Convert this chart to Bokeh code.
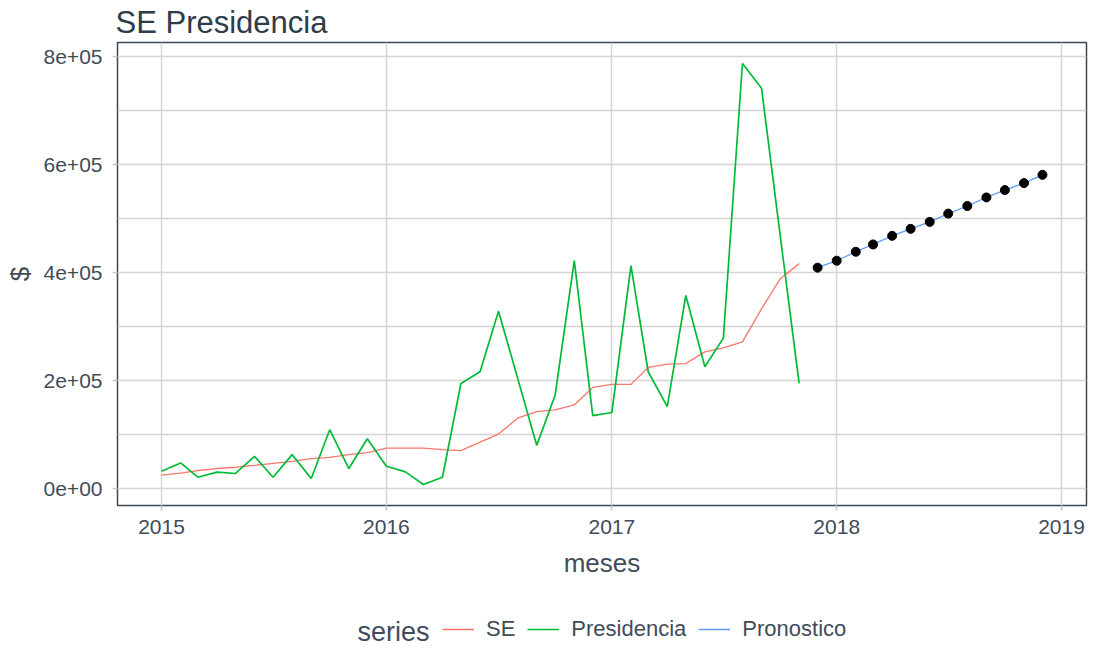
import pandas as pd
from bokeh.plotting import figure
from bokeh.layouts import column
from bokeh.models import Range1d, FixedTicker, DatetimeTickFormatter, Legend, LegendItem, Label
from bokeh.embed import file_html
from bokeh.resources import INLINE

# ---------------- data ----------------
hist_start = "2015-01-01"
forecast_start = "2017-12-01"

se = [25200, 28900, 33900, 37600, 40000, 43600, 47300, 51000, 56000, 58400,
      63300, 67000, 75500, 75500, 75500, 72600, 70700, 86600, 101300, 130800,
      143100, 146200, 155400, 187800, 193400, 193400, 224700, 230900, 232000,
      253600, 261000, 272000, 333300, 388600, 417000]

presidencia = [32600, 47900, 21500, 30800, 28400, 60200, 21500, 63300, 19100,
               109400, 37600, 92800, 41800, 31300, 8100, 21500, 195000, 216800,
               329000, 205000, 80500, 173800, 422500, 135700, 141300, 413200,
               216800, 152300, 358000, 226000, 279000, 787500, 741600, 471500,
               195200]

pronostico = [409500, 422400, 439000, 452500, 468500, 481400, 494300, 509600,
              523700, 539600, 553200, 566100, 581400]

series_names = ["SE", "Presidencia", "Pronostico"]
series_colors = ["#F8766D", "#00BA38", "#619CFF"]

x_tick_years = [2015, 2016, 2017, 2018, 2019]
y_ticks = [0, 200000, 400000, 600000, 800000]
y_tick_labels = ["0e+00", "2e+05", "4e+05", "6e+05", "8e+05"]
y_minor_ticks = [100000, 300000, 500000, 700000]

hist_dates = pd.date_range(hist_start, periods=len(se), freq="MS")
fc_dates = pd.date_range(forecast_start, periods=len(pronostico), freq="MS")

# ---------------- styling ----------------
FONT = "Liberation Sans"
TITLE_C = "#2e3b4a"
TEXT_C = "#3f4c5a"
GRID_C = "#d4d4d4"
W = 1088
H_MAIN = 590
H_LEG = 55

def ms(ts):
    return pd.Timestamp(ts).value / 1e6

all_dates = list(hist_dates) + list(fc_dates)
x0, x1 = ms(min(all_dates)), ms(max(all_dates))
xpad = (x1 - x0) * 0.05
all_vals = se + presidencia + pronostico
y0, y1 = min(all_vals), max(all_vals)
ypad = (y1 - y0) * 0.05

p = figure(width=W, height=H_MAIN, x_axis_type="datetime",
           title="SE Presidencia",
           output_backend="svg", toolbar_location=None,
           x_range=Range1d(x0 - xpad, x1 + xpad),
           y_range=Range1d(y0 - ypad, y1 + ypad),
           min_border_left=117, min_border_right=2,
           min_border_top=38, min_border_bottom=85)

p.title.text_font = FONT
p.title.text_font_size = "31px"
p.title.text_font_style = "normal"
p.title.text_color = TITLE_C
p.title.align = "left"
p.title.offset = -2
p.title.standoff = 5

p.background_fill_color = "white"
p.border_fill_color = "white"
p.outline_line_color = "#3b4856"
p.outline_line_width = 1.5

p.xaxis.ticker = FixedTicker(ticks=[ms(f"{y}-01-01") for y in x_tick_years])
p.xaxis.formatter = DatetimeTickFormatter(years="%Y", months="%Y", days="%Y",
                                          hours="%Y", minutes="%Y")
p.yaxis.ticker = FixedTicker(ticks=y_ticks, minor_ticks=y_minor_ticks)
p.yaxis.major_label_overrides = {t: l for t, l in zip(y_ticks, y_tick_labels)}

for ax in (p.xaxis[0], p.yaxis[0]):
    ax.axis_line_color = None
    ax.major_tick_in = 0
    ax.major_tick_out = 5
    ax.major_tick_line_color = "#c4c4c4"
    ax.major_tick_line_width = 1.5
    ax.minor_tick_line_color = None
    ax.major_label_text_font = FONT
    ax.major_label_text_font_size = "21px"
    ax.major_label_text_color = TEXT_C
    ax.axis_label_text_font = FONT
    ax.axis_label_text_font_size = "26px"
    ax.axis_label_text_font_style = "normal"
    ax.axis_label_text_color = TEXT_C

p.xaxis.major_label_standoff = 9
p.yaxis.major_label_standoff = 10
p.xaxis.axis_label = "meses"
p.yaxis.axis_label = "$"
p.xaxis.axis_label_standoff = 11
p.yaxis.axis_label_standoff = 6

p.xgrid.grid_line_color = GRID_C
p.xgrid.grid_line_width = 1.5
p.ygrid.grid_line_color = GRID_C
p.ygrid.grid_line_width = 1.5
p.ygrid.minor_grid_line_color = GRID_C
p.ygrid.minor_grid_line_width = 1.3

p.line(hist_dates, se, line_color=series_colors[0], line_width=1.3)
p.line(hist_dates, presidencia, line_color=series_colors[1], line_width=1.7)
p.line(fc_dates, pronostico, line_color=series_colors[2], line_width=1.3)
p.scatter(fc_dates, pronostico, size=9, color="black")

# ---------------- legend strip ----------------
q = figure(width=W, height=H_LEG, output_backend="svg", toolbar_location=None,
           title=None, x_range=Range1d(0, W), y_range=Range1d(0, H_LEG),
           min_border=0, x_axis_location=None, y_axis_location=None)
q.outline_line_color = None
q.grid.visible = False
q.background_fill_color = "white"
q.border_fill_color = "white"

# key renderers reuse the series data; it lies far outside this strip's range
key_renderers = [
    q.line(hist_dates, se, line_color=series_colors[0], line_width=1.5),
    q.line(hist_dates, presidencia, line_color=series_colors[1], line_width=1.5),
    q.line(fc_dates, pronostico, line_color=series_colors[2], line_width=1.5),
]

leg = Legend(items=[LegendItem(label=n, renderers=[r])
                    for n, r in zip(series_names, key_renderers)],
             location=(325, 3), orientation="horizontal",
             glyph_width=32, glyph_height=22, label_height=22,
             label_standoff=12, spacing=12, padding=0, margin=0,
             border_line_color=None, background_fill_alpha=0,
             label_text_font=FONT, label_text_font_size="22px",
             label_text_color=TEXT_C)
q.add_layout(leg)
q.add_layout(Label(x=240, y=14, x_units="screen", y_units="screen",
                   text="series", text_font=FONT, text_font_size="27px",
                   text_color=TEXT_C, text_baseline="middle"))

open("out.html", "w").write(file_html(column(p, q, spacing=0), INLINE))
